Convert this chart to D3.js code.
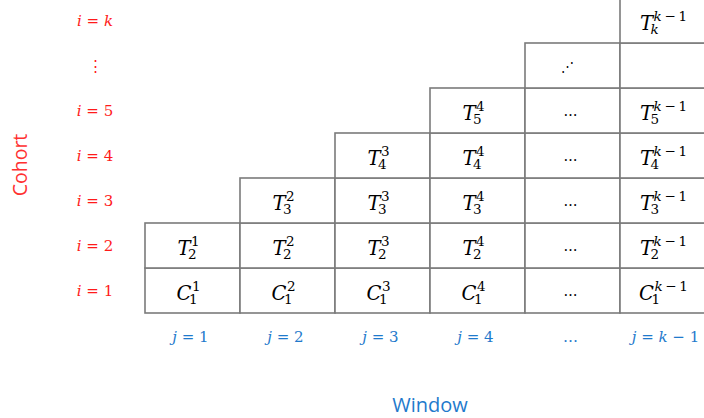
<!DOCTYPE html>
<html lang="en">
<head>
    <meta charset="UTF-8">
    <title>Cohort / Window grid</title>
    <script src="https://cdnjs.cloudflare.com/ajax/libs/d3/7.8.5/d3.min.js"></script>
    <style>
        body { margin: 0; background: white; }
        svg { display: block; }
        .math { font-family: "DejaVu Serif", serif; }
    </style>
</head>
<body>
    <div id="chart"></div>

    <script>
        // rows bottom -> top, columns left -> right
        const cohortLabels = [["i", " = 1"], ["i", " = 2"], ["i", " = 3"], ["i", " = 4"], ["i", " = 5"], ["⋮", ""], ["i", " = k"]];
        const windowLabels = [["j", " = 1"], ["j", " = 2"], ["j", " = 3"], ["j", " = 4"], ["…", ""], ["j", " = k − 1"]];
        const firstCol = [0, 0, 1, 2, 3, 4, 5];   // first filled column in each row
        const baseLetter = ["C", "T", "T", "T", "T", "", "T"];
        const subLabel = ["1", "2", "3", "4", "5", "", "k"];
        const supLabel = ["1", "2", "3", "4", "…", "k−1"];

        const width = 704, height = 418;
        const svg = d3.select("#chart").append("svg")
            .attr("width", width)
            .attr("height", height);

        const rows = d3.range(cohortLabels.length);
        const cols = d3.range(windowLabels.length);

        const x = d3.scaleBand().domain(cols).range([145, 145 + 95 * cols.length]);
        const y = d3.scaleBand().domain(rows).range([313, 313 - 45 * rows.length]);

        // build the cell list from the arrays
        const cells = [];
        rows.forEach(r => {
            cols.filter(c => c >= firstCol[r]).forEach(c => {
                let kind = "term";
                if (r === 5) kind = c === 4 ? "ddots" : "empty";
                else if (c === 4) kind = "dots";
                cells.push({ r, c, kind });
            });
        });

        const cellG = svg.append("g").selectAll("g")
            .data(cells)
            .join("g")
            .attr("transform", d => `translate(${x(d.c)},${y(d.r)})`);

        cellG.append("rect")
            .attr("width", x.bandwidth())
            .attr("height", y.bandwidth())
            .attr("fill", "white")
            .attr("stroke", "#7b7b7b")
            .attr("stroke-width", 1.6);

        // cell contents
        cellG.each(function(d) {
            const g = d3.select(this);
            const cx = x.bandwidth() / 2 - 4, cy = y.bandwidth() / 2;
            if (d.kind === "dots") {
                g.append("text").attr("class", "math")
                    .attr("x", cx + 2).attr("y", cy + 5)
                    .attr("text-anchor", "middle")
                    .attr("font-size", 14)
                    .text("…");
                return;
            }
            if (d.kind === "ddots") {
                g.append("text").attr("class", "math")
                    .attr("x", cx - 1).attr("y", cy + 5)
                    .attr("text-anchor", "middle")
                    .attr("font-size", 13)
                    .text("⋰");
                return;
            }
            if (d.kind === "empty") return;

            // one text element: base, superscript, then subscript pulled back under it
            const t = g.append("text").attr("class", "math")
                .attr("x", 0).attr("y", cy + 9.5);
            const base = t.append("tspan")
                .attr("font-style", "italic")
                .attr("font-size", 19.5)
                .text(baseLetter[d.r]);
            const supText = supLabel[d.c];
            const sup = t.append("tspan")
                .attr("font-size", 13.5)
                .attr("dx", 0.5)
                .attr("dy", -9);
            if (supText === "k−1") {
                sup.append("tspan").attr("font-style", "italic").text("k");
                sup.append("tspan").text("\u2009−\u20091");
            } else {
                sup.text(supText);
            }
            const supW = sup.node().getComputedTextLength();
            const sub = t.append("tspan")
                .attr("font-size", 13.5)
                .attr("font-style", subLabel[d.r] === "k" ? "italic" : "normal")
                .attr("dx", -supW - 3)
                .attr("dy", 13)
                .text(subLabel[d.r]);
            const bw = base.node().getComputedTextLength();
            const subW = sub.node().getComputedTextLength();
            const w = Math.max(bw + 0.5 + supW, bw - 2.5 + subW);
            t.attr("transform", `translate(${cx - w / 2},0)`);
        });

        // cohort labels (left)
        const rowLab = svg.append("g").selectAll("text")
            .data(rows)
            .join("text")
            .attr("class", "math")
            .attr("x", 95)
            .attr("y", r => y(r) + y.bandwidth() / 2 + 5)
            .attr("text-anchor", "middle")
            .attr("font-size", 15)
            .attr("fill", "#ff1a1a");
        rowLab.append("tspan").attr("font-style", r => r === 5 ? "normal" : "italic").text(r => cohortLabels[r][0]);
        rowLab.append("tspan").text(r => cohortLabels[r][1].replace("k", ""));
        rowLab.filter(r => cohortLabels[r][1].includes("k"))
            .append("tspan").attr("font-style", "italic").text("k");

        // window labels (bottom)
        const colLab = svg.append("g").selectAll("text")
            .data(cols)
            .join("text")
            .attr("class", "math")
            .attr("x", c => x(c) + x.bandwidth() / 2 - 2)
            .attr("y", 342)
            .attr("text-anchor", "middle")
            .attr("font-size", 15)
            .attr("fill", "#1f7acc");
        colLab.append("tspan").attr("font-style", c => c === 4 ? "normal" : "italic").text(c => windowLabels[c][0]);
        colLab.each(function(c) {
            const rest = windowLabels[c][1];
            const k = rest.indexOf("k");
            if (k < 0) {
                d3.select(this).append("tspan").text(rest);
            } else {
                d3.select(this).append("tspan").text(rest.slice(0, k));
                d3.select(this).append("tspan").attr("font-style", "italic").text("k");
                d3.select(this).append("tspan").text(rest.slice(k + 1));
            }
        });

        // axis titles
        svg.append("text")
            .attr("transform", "translate(27,165) rotate(-90)")
            .attr("text-anchor", "middle")
            .attr("font-family", "'Open Sans', sans-serif")
            .attr("font-size", 19.5)
            .attr("fill", "#ff3030")
            .text("Cohort");

        svg.append("text")
            .attr("x", 430)
            .attr("y", 412)
            .attr("text-anchor", "middle")
            .attr("font-family", "'Open Sans', sans-serif")
            .attr("font-size", 20)
            .attr("fill", "#1f7acc")
            .text("Window");
    </script>
</body>
</html>
